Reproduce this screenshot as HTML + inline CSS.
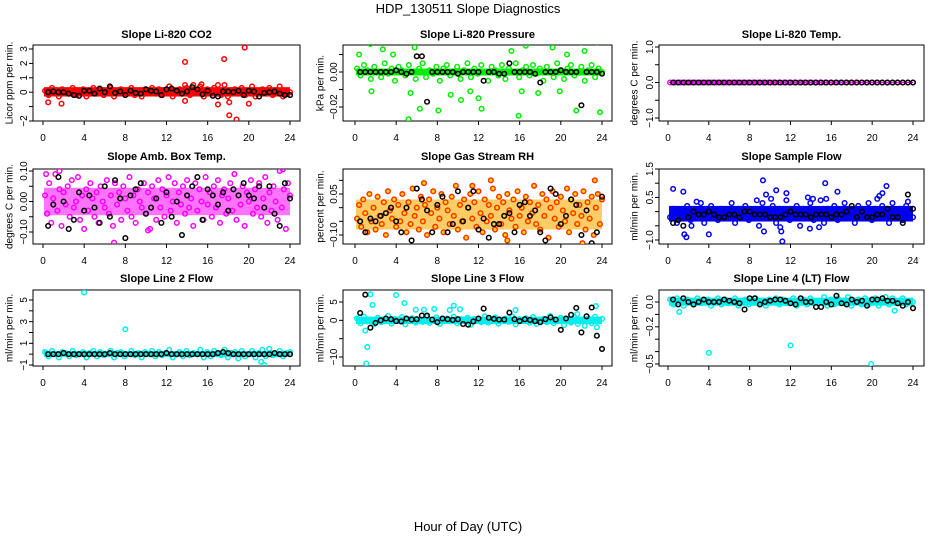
<!DOCTYPE html>
<html><head><meta charset="utf-8"><style>
body{margin:0;background:#fff}
svg{display:block;font-family:"Liberation Sans",sans-serif}
.t{font-weight:bold;font-size:11px}
.tk{font-size:10px}
</style></head><body>
<svg id="c" width="936" height="540" viewBox="0 0 936 540">
<text x="468" y="13" text-anchor="middle" font-size="13">HDP_130511  Slope Diagnostics</text>
<text x="468" y="531" text-anchor="middle" font-size="13">Hour of Day (UTC)</text>
</svg>
<script>
// ---- data ----
const xTicks=[0,4,8,12,16,20,24];
const p1Cloud=[0.1,-0.2,0.3,0.0,-0.3,0.2,0.1,-0.1,0.3,-0.2,0.0,0.2,-0.3,0.1,0.3,-0.1,0.2,-0.2,0.0,0.3,-0.3,0.1,0.2,-0.1,0.0,0.3,-0.2,0.1,-0.3,0.2,0.0,0.3,-0.1,0.2,-0.2,0.1,0.4,-0.3,0.0,0.2,-0.1,0.3,-0.2,0.1,0.0,0.4,-0.3,0.2,-0.1,0.3,0.0,-0.2,0.5,-0.3,0.1,0.2,-0.1,0.3,-0.2,0.0,0.4,-0.3,0.1,0.2,-0.1,0.3,-0.2,0.0,0.4,-0.3,0.1,0.0];
const p1Black=[0.0,0.05,0.0,0.0,-0.1,-0.2,-0.25,0.1,0.1,-0.1,0.25,0.0,0.4,-0.05,0.05,-0.2,0.1,-0.05,-0.1,0.2,0.1,0.05,-0.2,0.2,0.25,0.1,-0.1,0.05,0.35,0.2,-0.15,0.1,-0.25,-0.3,0.05,0.05,0.0,0.1,-0.2,0.1,0.05,-0.3,-0.05,0.0,0.05,-0.1,-0.2,-0.2];
const p1OutX=[0.5,1.8,13.8,13.8,17.6,19.6,18.1,18.8,17.0,18.1,20.0,13.8,14.6,15.4,17.0];
const p1OutY=[-0.7,-0.8,2.1,-0.6,2.3,3.1,-1.6,-1.9,-0.85,-0.7,-0.8,0.5,0.5,0.55,0.5];
const p2Cloud=[0.002,-0.002,0.004,0.001,-0.004,0.003,0.0,-0.003,0.005,-0.001,0.002,-0.005,0.003,0.001,-0.002,0.004,0.0,-0.004,0.002,0.005,-0.003,0.001,-0.001,0.003,-0.005,0.002,0.004,-0.002,0.0,0.003,-0.004,0.001,0.005,-0.003,0.002,-0.001,0.004,0.0,-0.005,0.003,0.001,-0.002,0.004,-0.004,0.002,0.0,0.005,-0.003,0.001,0.003,-0.002,0.004,-0.001,0.002,-0.005,0.003,0.0,-0.003,0.005,0.001,-0.004,0.002,0.004,-0.002,0.0,0.003,-0.005,0.001,0.004,-0.003,0.002,0.0];
const p2Black=[0.0,0.0,0.0,0.0,0.0,0.0,0.0,0.001,0.0,-0.001,0.0,0.009,0.009,-0.017,0.0,0.0,0.0,0.0,0.0,-0.001,0.0,0.0,0.0,0.0,-0.005,0.0,0.0,-0.001,-0.001,0.005,0.0,0.0,0.0,0.0,-0.001,-0.006,0.0,0.0,0.0,0.001,0.0,0.0,0.0,-0.019,0.0,0.0,0.0,-0.001];
const p2OutX=[0.4,1.3,1.5,1.6,2.7,3.2,3.7,4.4,4.6,5.2,5.4,5.8,6.3,7.9,8.1,9.3,10.3,11.2,11.5,12.0,12.3,15.2,15.9,16.2,16.6,17.8,18.6,19.2,19.9,20.6,21.5,22.0,22.3,23.2,23.5,23.8,23.9];
const p2OutY=[0.01,0.02,0.016,-0.011,0.013,0.019,0.01,0.018,0.026,-0.027,-0.012,0.014,-0.021,-0.048,-0.022,-0.013,-0.016,-0.011,0.02,-0.015,-0.021,0.012,-0.025,-0.011,0.015,-0.012,0.019,0.014,-0.011,0.01,-0.022,0.017,0.012,0.022,0.017,-0.023,-0.052];
const p3Cloud=[0,0,0,0,0,0,0,0,0,0,0,0,0,0,0,0,0,0,0,0,0,0,0,0,0,0,0,0,0,0,0,0,0,0,0,0,0,0,0,0,0,0,0,0,0,0,0,0];
const p3Black=[0,0,0,0,0,0,0,0,0,0,0,0,0,0,0,0,0,0,0,0,0,0,0,0,0,0,0,0,0,0,0,0,0,0,0,0,0,0,0,0,0,0,0,0,0,0,0,0];
const p4Cloud=[0.02,-0.04,0.06,-0.07,0.01,0.09,-0.03,0.04,-0.08,0.03,-0.01,0.05,-0.05,0.07,-0.02,0.00,0.08,-0.06,0.02,-0.09,0.04,-0.03,0.06,0.01,-0.05,0.03,-0.07,0.05,0.00,-0.02,0.07,-0.04,0.02,-0.08,0.06,-0.01,0.03,-0.06,0.05,0.01,-0.03,0.08,-0.05,0.02,-0.07,0.04,0.00,-0.02,0.06,-0.04,0.03,-0.09,0.05,0.01,-0.06,0.07,-0.02,0.04,-0.05,0.02,0.08,-0.03,0.00,0.06,-0.07,0.03,-0.01,0.05,-0.04,0.07,-0.02,0.01,-0.08,0.06,-0.03,0.04,0.00,-0.06,0.08,-0.01,0.03,-0.05,0.05,-0.02,0.07,-0.07,0.02,0.04,-0.04,0.01,0.06,-0.03,0.09,-0.06,0.02,-0.01,0.05,-0.08,0.03,0.00,0.07,-0.04,0.04,-0.02,0.06,-0.05,0.01,0.08,-0.07,0.03,-0.03,0.05,0.00,-0.06,0.10,-0.02,0.04,-0.09,0.06,0.02];
const p4Black=[-0.08,-0.01,0.08,0.00,-0.09,-0.06,0.03,-0.03,0.02,-0.02,-0.07,0.05,-0.05,0.07,0.01,-0.12,0.02,0.04,0.06,-0.04,-0.02,0.01,-0.07,0.03,-0.05,0.00,-0.11,0.02,0.05,0.08,-0.06,0.04,0.02,-0.01,0.03,-0.03,0.04,0.02,0.06,0.02,0.01,0.05,-0.02,0.05,-0.04,-0.08,0.06,0.01];
const p5Cloud=[-0.04,0.01,-0.07,0.03,-0.02,-0.09,0.05,-0.05,0.00,-0.08,0.04,-0.03,-0.06,0.02,-0.10,0.06,-0.01,-0.04,0.03,-0.07,0.01,-0.05,0.05,-0.02,-0.09,0.02,-0.06,0.07,-0.03,0.00,-0.08,0.04,-0.05,0.01,-0.10,0.03,-0.02,0.06,-0.07,0.00,-0.04,0.05,-0.09,0.02,-0.01,-0.06,0.04,-0.03,0.08,-0.08,0.01,-0.05,0.03,-0.11,0.00,0.05,-0.04,0.02,-0.07,0.06,-0.02,-0.09,0.03,-0.05,0.01,-0.03,0.07,-0.08,0.00,0.04,-0.06,0.02,-0.10,0.05,-0.01,-0.04,0.03,-0.07,0.06,-0.03,0.00,-0.09,0.04,-0.05,0.02,-0.02,0.08,-0.06,0.01,-0.08,0.05,-0.03,0.03,-0.11,0.00,0.06,-0.04,0.02,-0.07,0.04,-0.01,-0.05,0.07,-0.09,0.03,-0.02,0.05,-0.06,0.01,-0.03,0.06,-0.08,0.02,-0.04,0.04,-0.10,0.00,0.05,-0.06,0.03];
const p5Black=[-0.05,-0.09,-0.04,-0.05,-0.03,-0.02,0.00,-0.05,-0.09,0.00,-0.12,0.07,0.03,-0.01,-0.09,0.01,0.04,-0.09,-0.06,0.06,-0.05,0.00,0.06,-0.08,-0.04,-0.11,-0.06,-0.06,-0.03,-0.02,-0.09,0.01,0.02,-0.03,-0.01,-0.09,-0.12,0.07,0.05,-0.06,-0.03,0.03,0.01,-0.10,-0.01,-0.13,-0.09,0.04];
const p6Cloud=[-0.2,0.1,-0.4,0.0,-0.1,0.2,-0.3,0.1,-0.2,0.3,-0.4,0.0,0.2,-0.1,-0.3,0.1,0.0,-0.2,0.3,-0.4,0.1,-0.1,0.2,-0.3,0.0,0.1,-0.5,0.3,-0.2,0.0,0.2,-0.4,0.1,-0.1,0.4,-0.3,0.0,0.2,-0.5,0.1,-0.2,0.3,-0.3,0.0,0.4,-0.4,0.1,-0.1,0.2,-0.3,0.0,0.3,-0.2,0.1,-0.4,0.2,0.0,-0.1,0.3,-0.3,0.1,-0.2,0.2,0.0,-0.4,0.3,-0.1,0.1,-0.3,0.2,0.0,-0.2];
const p6Black=[-0.4,-0.3,-0.5,-0.2,0.0,-0.1,-0.1,0.0,-0.1,-0.2,-0.2,-0.1,-0.1,-0.2,0.0,0.0,-0.1,-0.1,-0.1,-0.2,-0.2,-0.2,-0.1,0.0,-0.1,-0.1,-0.1,-0.2,-0.1,-0.1,-0.1,-0.2,-0.1,-0.1,0.0,0.2,-0.2,0.0,-0.2,-0.2,-0.1,-0.1,0.1,-0.2,-0.2,-0.4,0.6,0.1];
const p6OutX=[0.5,1.1,1.5,1.6,1.8,2.3,2.8,4.0,8.7,9.3,9.4,9.6,10.1,10.6,11.0,11.1,11.2,11.6,13.7,13.9,14.2,14.8,15.4,15.5,16.6,20.5,20.7,21.0,21.4,23.5];
const p6OutY=[0.8,1.85,0.7,-0.8,-0.9,-0.5,0.35,-0.8,0.4,1.1,-0.7,0.6,0.45,0.75,-0.55,-0.7,-1.05,0.65,0.5,-0.6,0.45,-0.55,1.0,0.45,0.7,0.45,0.55,0.65,0.9,0.35];
const p7Cloud=[0.2,-0.2,0.3,0.0,-0.3,0.2,0.1,-0.2,0.3,-0.1,0.0,0.2,-0.3,0.1,0.3,-0.2,0.2,-0.1,0.0,0.3,-0.3,0.1,0.2,-0.2,0.0,0.3,-0.1,0.1,-0.3,0.2,0.0,0.3,-0.2,0.2,-0.1,0.1,0.4,-0.3,0.0,0.2,-0.2,0.3,-0.1,0.1,0.0,0.4,-0.3,0.2,-0.2,0.3,0.0,-0.1,0.4,-0.3,0.1,0.2,-0.4,0.3,-0.2,0.0,0.3,-0.3,0.1,0.4,-0.2,0.5,-0.1,0.0,0.3,-0.2,0.1,0.2];
const p7Black=[0,0,0,0.1,0,0,0,0,0,0,0,0,0.1,0,0,0,0,0,0,0,0,0,0,0.1,0,0,0,0,0,0,0,0,0,0.1,0.2,0.1,0,0,0,0,0,0,0,0,0.1,0,0,0];
const p7OutX=[4.0,8.0,21.2,21.5];
const p7OutY=[5.7,2.3,-0.7,-1.0];
const p8Cloud=[0.5,-0.8,1.0,-0.3,0.2,-1.0,0.7,-0.5,0.0,1.2,-0.9,0.4,-0.2,0.9,-1.1,0.3,0.6,-0.6,0.1,-0.4,1.1,-0.7,0.2,0.8,-1.0,0.0,0.5,-0.3,1.0,-0.8,0.3,-0.1,0.7,-1.2,0.4,0.0,-0.5,1.1,-0.6,0.2,0.8,-0.9,0.0,0.5,-0.4,1.0,-1.1,0.3,-0.2,0.6,-0.7,0.9,-1.0,0.1,0.4,-0.5,1.2,-0.8,0.0,0.7,-1.3,0.3,-0.6,0.9,-1.0,0.2,-1.5,0.5,-0.8,1.0,-0.3,0.4];
const p8Black=[2,7,-2,-0.7,0,0.5,0.3,-0.2,-0.3,0.5,0.2,0.3,1.3,1.3,0.2,-0.5,0.5,0.3,0.1,0.3,-1,-1.2,-0.3,0.5,3.2,0.7,0.4,0.2,0.2,2.1,0.3,-0.2,0.3,0.1,-0.2,-0.5,0.3,0.8,0.2,-2.6,0.5,1.5,3.4,-3.3,1.1,3.5,-4.2,-7.8];
const p8OutX=[1.0,1.1,1.2,1.5,1.7,4.0,4.8,5.9,6.7,7.7,9.2,9.6,10.2,15.6,21.6,23.4,23.5];
const p8OutY=[-2.8,-11.8,-7.3,7.1,4.2,6.9,4.7,2.9,2.9,3.1,2.8,4.0,3.0,2.8,1.7,3.9,-1.9];
const p9Cloud=[0.02,-0.02,0.03,0.0,-0.03,0.02,0.01,-0.02,0.03,-0.01,0.0,0.02,-0.03,0.01,0.03,-0.02,0.02,-0.01,0.0,0.03,-0.03,0.01,0.02,-0.02,0.0,0.03,-0.01,0.01,-0.03,0.02,0.0,0.03,-0.02,0.02,-0.01,0.01,0.03,-0.03,0.0,0.02,-0.02,0.03,-0.01,0.01,0.0,0.04,-0.03,0.02,-0.02,0.03,0.0,-0.01,0.04,-0.03,0.01,0.02,-0.02,0.03,-0.02,0.0,0.03,-0.03,0.01,0.04,-0.02,0.03,-0.01,0.0,0.03,-0.02,0.01,0.0];
const p9Black=[0.02,-0.02,0.03,0.0,-0.02,0.0,0.02,0.0,0.0,0.0,0.02,0.01,0.0,-0.01,-0.06,0.03,0.03,-0.02,0.0,0.01,0.02,0.02,0.01,-0.01,-0.02,0.03,0.0,0.0,-0.04,-0.04,0.0,-0.02,0.05,-0.01,-0.02,0.02,0.0,0.01,-0.03,0.02,0.02,0.03,0.01,0.01,-0.01,-0.03,0.0,-0.05];
const p9OutX=[1.1,4.0,12.0,19.9,22.2];
const p9OutY=[-0.08,-0.41,-0.35,-0.5,-0.07];

// ---- layout / drawing ----
const NS="http://www.w3.org/2000/svg";
const svg=document.getElementById('c');
function mk(tag,attrs,parent){const e=document.createElementNS(NS,tag);for(const k in attrs)e.setAttribute(k,attrs[k]);(parent||svg).appendChild(e);return e;}
const cols=[{l:33,r:300,x0:43,x24:290,lab:9},{l:343,r:612,x0:355,x24:602,lab:320},{l:659,r:924,x0:668,x24:913,lab:634}];
const rows=[{t:45,b:121,ty:38},{t:169,b:244,ty:160},{t:290,b:366,ty:282}];
const panels=[
 {name:'li820-co2',title:'Slope Li-820 CO2',yl:'Licor ppm per min.',c:0,r:0,v1:3,p1:49,v2:-2,p2:121,ticks:[-2,-1,0,1,2,3],labs:[-2,0,1,2,3],fmt:0,col:'#ff0000',fill:'none',band:[-0.3,0.35],cloud:p1Cloud,black:p1Black,ox:p1OutX,oy:p1OutY},
 {name:'li820-pressure',title:'Slope Li-820 Pressure',yl:'kPa per min.',c:1,r:0,v1:0,p1:72,v2:-0.02,p2:107,ticks:[0.01,0,-0.01,-0.02],labs:[0,-0.02],fmt:2,col:'#00ee00',fill:'none',band:[-0.002,0.002],cloud:p2Cloud,black:p2Black,ox:p2OutX,oy:p2OutY},
 {name:'li820-temp',title:'Slope Li-820 Temp.',yl:'degrees C per min.',c:2,r:0,v1:1,p1:47,v2:-1,p2:118,ticks:[1,0.5,0,-0.5,-1],labs:[1,0,-1],fmt:1,col:'#ff00ff',fill:'none',band:[-0.02,0.02],cloud:p3Cloud,black:p3Black,ox:[],oy:[]},
 {name:'amb-box-temp',title:'Slope Amb. Box Temp.',yl:'degrees C per min.',c:0,r:1,v1:0.1,p1:171,v2:-0.1,p2:232,ticks:[0.1,0.05,0,-0.05,-0.1],labs:[0.1,0,-0.1],fmt:2,col:'#ff00ff',fill:'none',band:[-0.045,0.045],bandOp:0.55,cloud:p4Cloud,black:p4Black,ox:[1.6,6.9,23.3,10.2,0.3],oy:[0.1,-0.135,0.105,-0.095,0.09]},
 {name:'gas-stream-rh',title:'Slope Gas Stream RH',yl:'percent per min.',c:1,r:1,v1:0.05,p1:194,v2:-0.1,p2:235,ticks:[0.1,0.05,0,-0.05,-0.1],labs:[0.05,-0.1],fmt:2,col:'#ff3300',fill:'#ffdd00',band:[-0.08,0.03],bandOp:0.6,bandCol:'#ffaa00',cloud:p5Cloud,black:p5Black,ox:[6.7,13.2,23.3,22.1,14.8,11.4],oy:[0.09,0.1,0.1,-0.13,-0.12,0.08]},
 {name:'sample-flow',title:'Slope Sample Flow',yl:'ml/min per min.',c:2,r:1,v1:1.5,p1:169,v2:-1,p2:240,ticks:[1.5,1,0.5,0,-0.5,-1],labs:[1.5,0.5,-1],fmt:1,col:'#0000ee',fill:'none',band:[-0.35,0.2],cloud:p6Cloud,black:p6Black,ox:p6OutX,oy:p6OutY},
 {name:'line2-flow',title:'Slope Line 2 Flow',yl:'ml/min per min.',c:0,r:2,v1:5,p1:300,v2:-1,p2:365,ticks:[5,4,3,2,1,0,-1],labs:[5,3,1,-1],fmt:0,col:'#00eeee',fill:'none',band:[-0.25,0.3],cloud:p7Cloud,black:p7Black,ox:p7OutX,oy:p7OutY},
 {name:'line3-flow',title:'Slope Line 3 Flow',yl:'ml/min per min.',c:1,r:2,v1:5,p1:302,v2:-10,p2:357,ticks:[5,0,-5,-10],labs:[5,0,-10],fmt:0,col:'#00eeee',fill:'none',band:[-1,1],cloud:p8Cloud,black:p8Black,ox:p8OutX,oy:p8OutY},
 {name:'line4-flow',title:'Slope Line 4 (LT) Flow',yl:'ml/min per min.',c:2,r:2,v1:0,p1:302,v2:-0.5,p2:364,ticks:[0,-0.1,-0.2,-0.3,-0.4,-0.5],labs:[0,-0.2,-0.5],fmt:1,col:'#00eeee',fill:'none',band:[-0.03,0.035],cloud:p9Cloud,black:p9Black,ox:p9OutX,oy:p9OutY}
];
panels.forEach(p=>{
  const C=cols[p.c],R=rows[p.r];
  const xs=h=>C.x0+(C.x24-C.x0)*h/24;
  const ys=v=>p.p1+(p.p2-p.p1)*(v-p.v1)/(p.v2-p.v1);
  const g=mk('g',{});
  
  
  const cp=mk('clipPath',{id:'cp'+p.name},g);
  mk('rect',{x:C.l,y:R.t,width:C.r-C.l,height:R.b-R.t},cp);
  const title=mk('text',{x:(C.l+C.r)/2,y:R.ty,'text-anchor':'middle',class:'t'},g);
  title.textContent=p.title;
  
  
  const cy=(R.t+R.b)/2;
  const yl=mk('text',{x:C.lab,y:cy,'text-anchor':'middle',transform:`rotate(-90 ${C.lab} ${cy})`,'font-size':10,dy:'0.35em'},g);
  yl.textContent=p.yl;
  
  
  // x axis (on box edge)
  const xa=mk('g',{stroke:'#000','stroke-width':1},g);
  
  
  xTicks.forEach(t=>{
    mk('line',{x1:xs(t),x2:xs(t),y1:R.b,y2:R.b+4},xa);
    const tx=mk('text',{x:xs(t),y:R.b+20,'text-anchor':'middle',class:'tk',stroke:'none'},g);
    tx.textContent=t;
    
    
  });
  // y axis
  const ya=mk('g',{stroke:'#000','stroke-width':1},g);
  
  
  p.ticks.forEach(t=>mk('line',{x1:C.l-4,x2:C.l,y1:ys(t),y2:ys(t)},ya));
  const lx=C.l-6;
  p.labs.forEach(t=>{
    const tx=mk('text',{x:lx,y:ys(t),'text-anchor':'middle',class:'tk',transform:`rotate(-90 ${lx} ${ys(t)})`},g);
    tx.textContent=t.toFixed(p.fmt).replace('-','\u2212');
    
    
  });
  mk('rect',{x:C.l,y:R.t,width:C.r-C.l,height:R.b-R.t,fill:'none',stroke:'#000','stroke-width':1},g);
  const pts=mk('g',{'clip-path':`url(#cp${p.name})`},g);
  
  
  const b=mk('rect',{x:xs(0.1),y:ys(p.band[1]),width:xs(24)-xs(0.1),height:ys(p.band[0])-ys(p.band[1]),fill:p.bandCol||p.col,opacity:p.bandOp||1},pts);
  
  
  const dot=(x,y,col,fill)=>{const c=mk('circle',{cx:xs(x),cy:ys(y),r:2.3,fill:fill,stroke:col,'stroke-width':1.5},pts);
    
    };
  const n=p.cloud.length;
  p.cloud.forEach((v,i)=>dot(0.2+i*23.8/(n-1),v,p.col,p.fill));
  p.ox.forEach((x,i)=>dot(x,p.oy[i],p.col,p.fill));
  p.black.forEach((v,i)=>dot(0.5+i*0.5,v,'#000','none'));
});
</script>
</body></html>
